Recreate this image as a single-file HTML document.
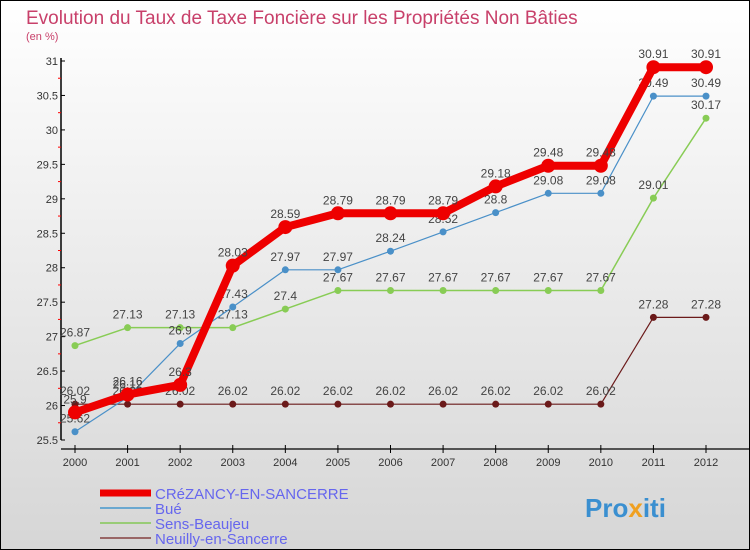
<!DOCTYPE html>
<html><head><meta charset="utf-8"><style>
body{margin:0;}
#c{width:750px;height:550px;position:relative;overflow:hidden;}
svg text{font-family:"Liberation Sans",sans-serif;}
</style></head><body>
<div id="c">
<svg id="s" width="750" height="550" xmlns="http://www.w3.org/2000/svg">
<defs><linearGradient id="bg" x1="0" y1="0" x2="0" y2="1"><stop offset="0" stop-color="#ffffff"/><stop offset="1" stop-color="#d6d6d6"/></linearGradient></defs>
<rect x="0.5" y="0.5" width="749" height="549" fill="url(#bg)" stroke="#000"/>
<text x="26" y="24" font-size="19" fill="#c8406a">Evolution du Taux de Taxe Foncière sur les Propriétés Non Bâties</text>
<text x="26" y="40" font-size="11" fill="#c8406a">(en %)</text>
<g id="axes"></g><g id="series"></g><g id="legend"></g>
<text x="585" y="517" font-size="26" font-weight="bold" fill="#3a8fd0">Pro<tspan fill="#f0a020">x</tspan>iti</text>
</svg></div>
<script>
const years=[2000,2001,2002,2003,2004,2005,2006,2007,2008,2009,2010,2011,2012];
const yTicks=[25.5,26,26.5,27,27.5,28,28.5,29,29.5,30,30.5,31];
const crezancy=[25.9,26.16,26.3,28.03,28.59,28.79,28.79,28.79,29.18,29.48,29.48,30.91,30.91];
const bue=[25.62,26.12,26.9,27.43,27.97,27.97,28.24,28.52,28.8,29.08,29.08,30.49,30.49];
const sens=[26.87,27.13,27.13,27.13,27.4,27.67,27.67,27.67,27.67,27.67,27.67,29.01,30.17];
const neuilly=[26.02,26.02,26.02,26.02,26.02,26.02,26.02,26.02,26.02,26.02,26.02,27.28,27.28];
const NS="http://www.w3.org/2000/svg";
const X=i=>75+i*(706-75)/(years.length-1);
const Y=v=>440-(v-25.5)*(379/5.5);
function mk(p,t,a){const e=document.createElementNS(NS,t);for(const k in a)e.setAttribute(k,a[k]);p.appendChild(e);return e;}
const ax=document.getElementById('axes');
let yl=mk(ax,'line',{x1:61,y1:58,x2:61,y2:440,stroke:'#000','stroke-width':1.5});


let xl=mk(ax,'line',{x1:61,y1:449,x2:750,y2:449,stroke:'#000','stroke-width':1.2});


yTicks.forEach((v,i)=>{
 mk(ax,'line',{x1:61,y1:Y(v),x2:65,y2:Y(v),stroke:'#000'});
 if(i<yTicks.length-1)mk(ax,'line',{x1:58,y1:Y(v+0.25),x2:61,y2:Y(v+0.25),stroke:'#f00'});
 const t=mk(ax,'text',{x:58,y:Y(v)+4,'font-size':11,fill:'#333','text-anchor':'end'});
 t.textContent=String(v);
 
 
});
years.forEach((y,i)=>{
 mk(ax,'line',{x1:X(i),y1:445,x2:X(i),y2:453,stroke:'#000'});
 const t=mk(ax,'text',{x:X(i),y:466,'font-size':11,fill:'#333','text-anchor':'middle'});
 t.textContent=y;
 
 
});
const sg=document.getElementById('series');
function draw(data,color,w,r,name){
 const g=mk(sg,'g',{});
 
 
 mk(g,'polyline',{points:data.map((v,i)=>X(i)+','+Y(v)).join(' '),fill:'none',stroke:color,'stroke-width':w,'stroke-linejoin':'round'});
 data.forEach((v,i)=>{
  const c=mk(g,'circle',{cx:X(i),cy:Y(v),r:r,fill:color});
  
  
  const t=mk(g,'text',{x:X(i),y:Y(v)-9,'font-size':12,fill:'#444','text-anchor':'middle'});
  t.textContent=String(v);
 });
}
draw(neuilly,'#6b1a1a',1.2,3.5,'neuilly-series');
draw(sens,'#88cc55',1.5,3.5,'sens-beaujeu-series');
draw(bue,'#4a90c8',1.2,3.5,'bue-series');
draw(crezancy,'#ee0000',8,7,'crezancy-series');
const lg=document.getElementById('legend');
const items=[['CRéZANCY-EN-SANCERRE','#ee0000',7],['Bué','#6aa8d0',2],['Sens-Beaujeu','#99cc77',2],['Neuilly-en-Sancerre','#996666',2]];
items.forEach((it,i)=>{
 const y=493+i*15;
 const g=mk(lg,'g',{});
 
 
 mk(g,'line',{x1:100,y1:y,x2:151,y2:y,stroke:it[1],'stroke-width':it[2]});
 const t=mk(g,'text',{x:155,y:y+6,'font-size':15,fill:'#6666ee'});
 t.textContent=it[0];
});
</script>
</body></html>
